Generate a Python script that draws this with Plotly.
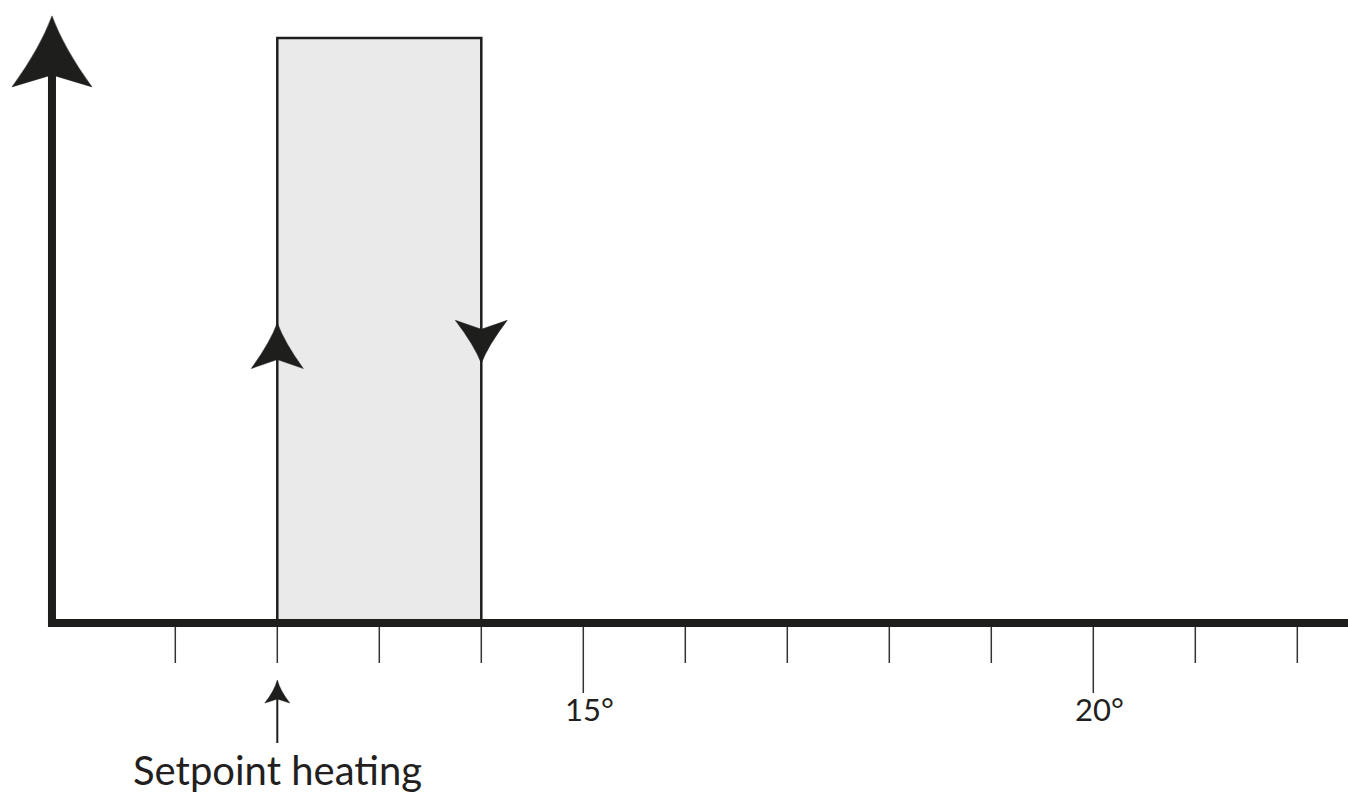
import plotly.graph_objects as go

# ---- data ----
tick_values = [11, 12, 13, 14, 15, 16, 17, 18, 19, 20, 21, 22]
labeled_ticks = [15, 20]
tick_labels = ["15°", "20°"]
setpoint_heating = 12
switch_off = 14
state_off = 0
state_on = 1
up_arrow_level = 0.513
down_arrow_level = 0.444
setpoint_label = "Setpoint heating"

# ---- scales (pixel geometry of the page) ----
x_range = [9.2814, 22.497]
y_range = [-0.2957, 1.0650]
axis_origin_x = 9.791
axis_top_y = 0.937

INK = "#1e1e1c"
FONT = "Lato"

fig = go.Figure()

# hysteresis band
fig.add_trace(go.Scatter(
    x=[setpoint_heating, setpoint_heating, switch_off, switch_off, setpoint_heating],
    y=[state_off, state_on, state_on, state_off, state_off],
    mode="lines", fill="toself", fillcolor="#eaeaea",
    line=dict(color=INK, width=2.5), hoverinfo="skip", showlegend=False,
))

shapes = []
# main axes (L-shape)
shapes.append(dict(
    type="path", xref="x", yref="y",
    path=f"M {x_range[1]},{state_off} L {axis_origin_x},{state_off} L {axis_origin_x},{axis_top_y}",
    line=dict(color=INK, width=8), layer="above",
))
# y-axis arrowhead (pixel offsets, y up)
shapes.append(dict(
    type="path", xref="x", yref="y", xsizemode="pixel", ysizemode="pixel",
    xanchor=axis_origin_x, yanchor=axis_top_y,
    path="M 0,59 Q -12,26.5 -40,-12 L 0,0 L 40,-12 Q 12,26.5 0,59 Z",
    fillcolor=INK, line=dict(color=INK, width=0.5), layer="above",
))
# ticks
for t in tick_values:
    ln = 70 if t in labeled_ticks else 40
    shapes.append(dict(
        type="line", xref="x", yref="y", xsizemode="pixel", ysizemode="pixel",
        xanchor=t, yanchor=state_off, x0=0, x1=0, y0=0, y1=-ln,
        line=dict(color="#333333", width=1.5), layer="below",
    ))
# up arrow on heating-on edge
shapes.append(dict(
    type="path", xref="x", yref="y", xsizemode="pixel", ysizemode="pixel",
    xanchor=setpoint_heating, yanchor=up_arrow_level,
    path="M 0,0 Q -7,-19.2 -26,-45.6 L 0,-36.6 L 26,-45.6 Q 7,-19.2 0,0 Z",
    fillcolor=INK, line=dict(color=INK, width=0.5), layer="above",
))
# down arrow on heating-off edge
shapes.append(dict(
    type="path", xref="x", yref="y", xsizemode="pixel", ysizemode="pixel",
    xanchor=switch_off, yanchor=down_arrow_level,
    path="M 0,0 Q -7,18 -26,43 L 0,34 L 26,43 Q 7,18 0,0 Z",
    fillcolor=INK, line=dict(color=INK, width=0.5), layer="above",
))
# setpoint pointer arrow
shapes.append(dict(
    type="line", xref="x", yref="y", xsizemode="pixel", ysizemode="pixel",
    xanchor=setpoint_heating, yanchor=state_off, x0=0, x1=0, y0=-70, y1=-120,
    line=dict(color=INK, width=2),
))
shapes.append(dict(
    type="path", xref="x", yref="y", xsizemode="pixel", ysizemode="pixel",
    xanchor=setpoint_heating, yanchor=state_off,
    path="M 0,-57 Q -3,-68 -12.5,-80 L 0,-76 L 12.5,-80 Q 3,-68 0,-57 Z",
    fillcolor=INK, line=dict(color=INK, width=0.5),
))

annotations = []
for t, lab in zip(labeled_ticks, tick_labels):
    annotations.append(dict(
        x=t, y=state_off, xref="x", yref="y", text=lab, showarrow=False,
        xanchor="center", yanchor="middle", xshift=6, yshift=-86,
        font=dict(family=FONT, size=31, color="#231f20"),
    ))
annotations.append(dict(
    x=setpoint_heating, y=state_off, xref="x", yref="y", text=setpoint_label,
    showarrow=False, xanchor="center", yanchor="middle", yshift=-147,
    font=dict(family=FONT, size=40, color="#231f20"),
))

fig.update_layout(
    width=1348, height=796,
    margin=dict(l=0, r=0, t=0, b=0),
    paper_bgcolor="white", plot_bgcolor="white",
    xaxis=dict(range=x_range, visible=False, fixedrange=True),
    yaxis=dict(range=y_range, visible=False, fixedrange=True),
    shapes=shapes, annotations=annotations, showlegend=False,
)

fig.write_html(
    "out.html",
    config={"displayModeBar": False},
    post_script="document.body.style.margin='0';document.body.style.overflow='hidden';",
)
